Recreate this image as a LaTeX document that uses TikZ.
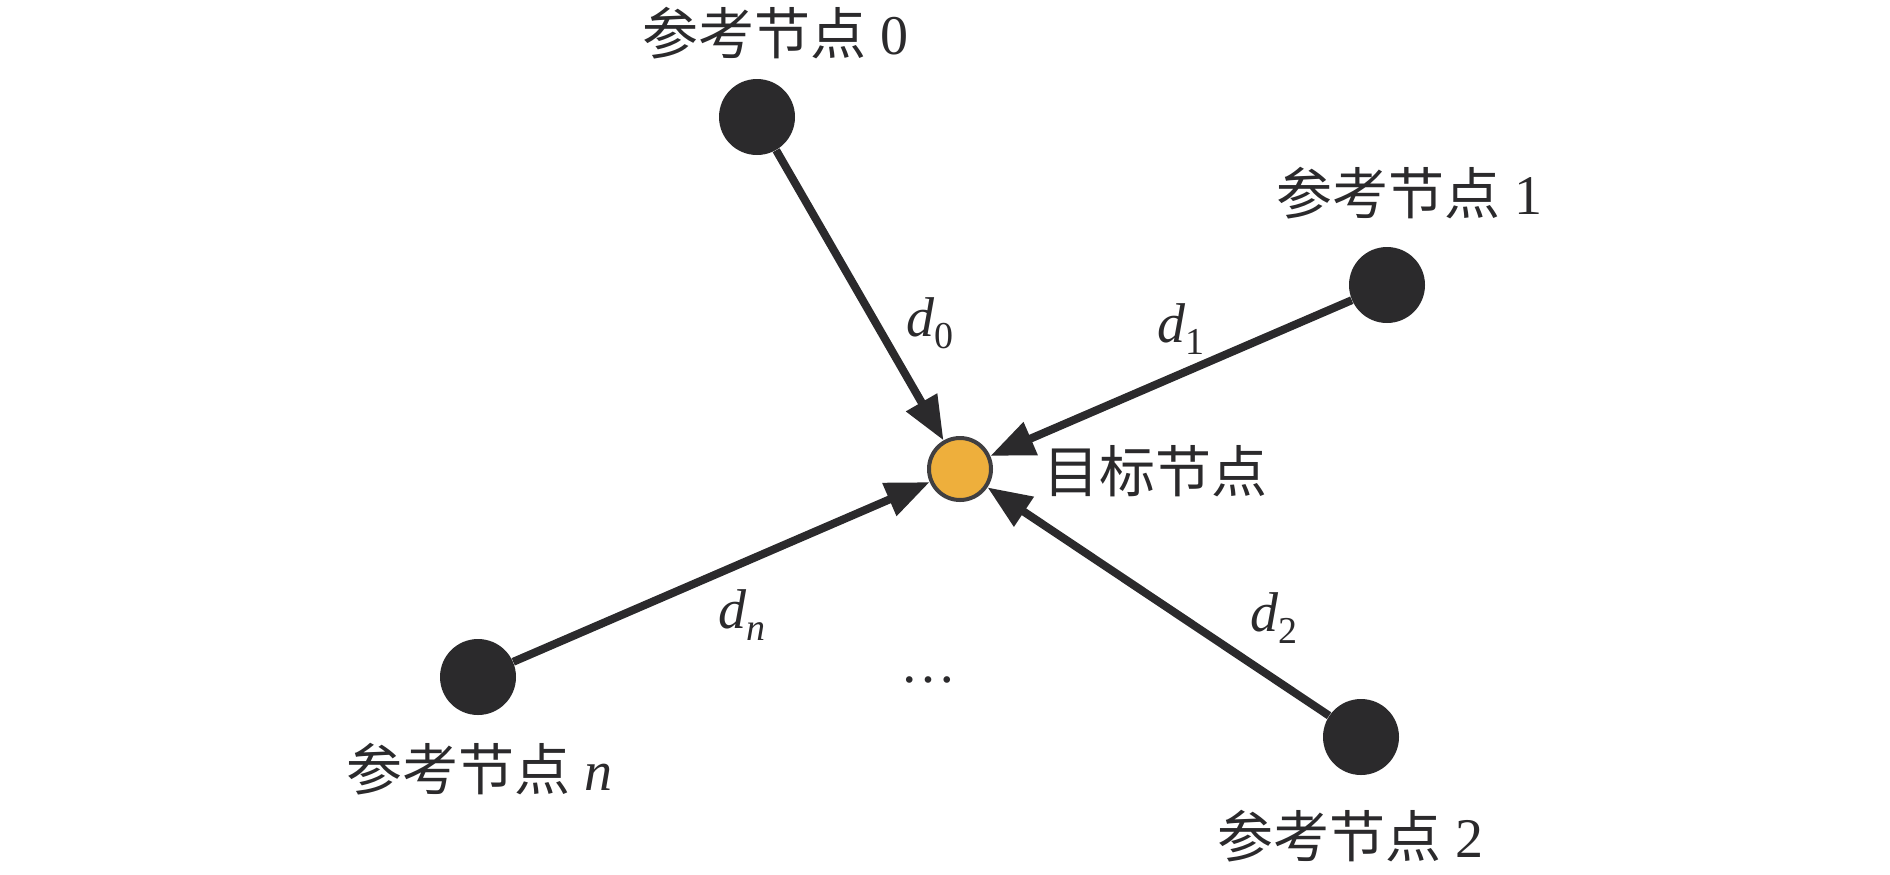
\documentclass[tikz,border=0pt]{standalone}
\usepackage{fontspec}
\setmainfont{Liberation Serif}
\newfontfamily\cjk{Noto Sans CJK SC}
\usetikzlibrary{arrows.meta}
\definecolor{nodegray}{HTML}{2B2A2C}
\definecolor{targetorange}{HTML}{EEAF3C}
\tikzstyle{cref}=[circle, fill=nodegray, inner sep=0pt, minimum size=38pt]
\tikzstyle{ctarget}=[circle, draw=nodegray!90, line width=2pt, fill=targetorange, inner sep=0pt, minimum size=31pt]
\tikzstyle{lbl}=[font=\fontsize{28}{32}\selectfont, text=nodegray, inner sep=0pt]
\tikzstyle{dist}=[font=\fontsize{28}{32}\selectfont, text=nodegray, inner sep=0pt]
\tikzstyle{arr}=[line width=4pt, draw=nodegray, -{Triangle[length=22pt,width=17pt]}]
\newcommand{\dd}[1]{\textit{d}\raisebox{-0.45ex}{\fontsize{19}{21}\selectfont #1}}

\begin{document}
\begin{tikzpicture}[x=0.5pt, y=-0.5pt]
\useasboundingbox (0,0) rectangle (1890,874);

\node[ctarget] (t) at (960,469) {};
\node[lbl] at (1155,471) {{\cjk 目标节点}};

\node[cref] (r0) at (757,117) {};
\node[lbl] at (775,33) {{\cjk 参考节点} 0};

\node[cref] (r1) at (1387,285) {};
\node[lbl] at (1409,193) {{\cjk 参考节点} 1};

\node[cref] (r2) at (1361,737) {};
\node[lbl] at (1350,836) {{\cjk 参考节点} 2};

\node[cref] (rn) at (478,677) {};
\node[lbl] at (479,769) {{\cjk 参考节点} \textit{n}};

\draw[arr] (r0) -- (t);
\draw[arr] (r1) -- (t);
\draw[arr] (r2) -- (t);
\draw[arr] (rn) -- (t);

\node[dist] at (930,323) {\dd{0}};
\node[dist] at (1181,329) {\dd{1}};
\node[dist] at (1274,618) {\dd{2}};
\node[dist] at (742,615) {\dd{\textit{n}}};
\node[dist] at (928,680) {\dots};

\end{tikzpicture}
\end{document}
